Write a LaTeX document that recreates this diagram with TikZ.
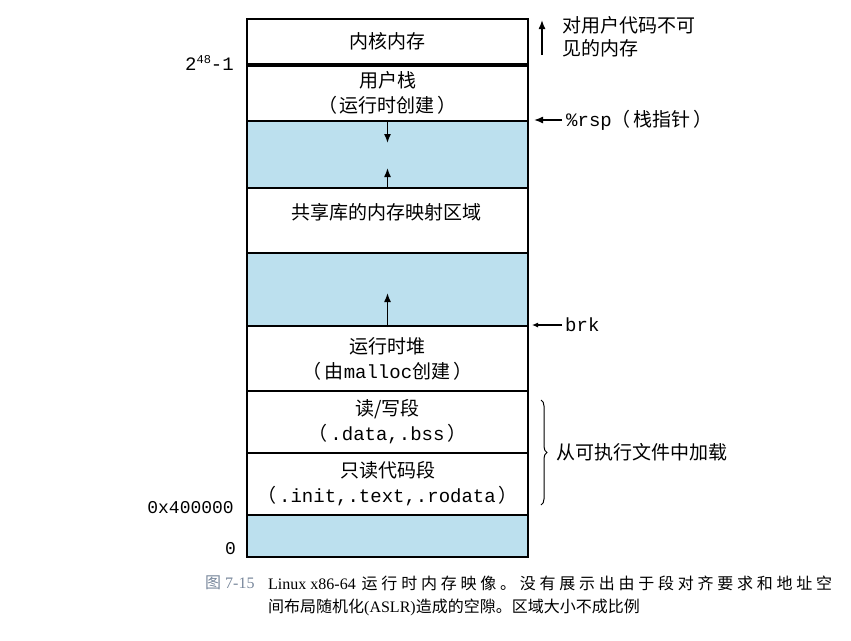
\documentclass[tikz,border=0pt]{standalone}
\usepackage{fontspec}
\setmainfont{Liberation Serif}
\newfontfamily\cjk{Noto Sans CJK SC}
\newfontfamily\mono{Liberation Mono}
\usetikzlibrary{arrows.meta,decorations.pathreplacing}
\definecolor{gapblue}{RGB}{188,224,238}
\definecolor{capgray}{RGB}{120,135,155}
\def\spr#1{#1\sprx}
\def\sprx#1{\ifx#1\relax\else\hfil#1\expandafter\sprx\fi}
\newcommand\lp{（\hspace{3pt}}
\newcommand\rp{\hspace{3pt}）}
\begin{document}
\begin{tikzpicture}[x=1pt,y=-1pt,
  region/.style={draw=black,line width=2pt,minimum width=281pt,anchor=north west,inner sep=0pt,
    font=\cjk\fontsize{19}{25}\selectfont,align=center,fill=white},
  gap/.style={region,fill=gapblue},
  ar/.style={-{Latex[length=9pt,width=7pt]},line width=1.4pt},
  sar/.style={-{Latex[length=6pt,width=5pt]},line width=1.1pt},
  lbl/.style={font=\cjk\fontsize{19}{23}\selectfont,inner sep=0pt},
  captext/.style={font=\cjk\fontsize{16}{20}\selectfont,inner sep=0pt,anchor=west}]
\useasboundingbox (0,0) rectangle (851,640);
% regions
\node[region,minimum height=45pt] (kern) at (246,18) {内核内存};
\node[region,minimum height=57pt] (ustack) at (246,63) {用户栈\\\lp 运行时创建\rp};
\node[gap,minimum height=67pt] (gap1) at (246,120) {};
\node[region,minimum height=65pt] (shlib) at (246,187) {};
\node[lbl,anchor=center] (shtext) at (386.5,212) {共享库的内存映射区域};
\node[gap,minimum height=73pt] (gap2) at (246,252) {};
\node[region,minimum height=65pt] (heap) at (246,325) {运行时堆\\\lp 由{\mono malloc}创建\rp};
\node[region,minimum height=62pt] (rw) at (246,390) {读/写段\\\lp{\mono .data,.bss}\rp};
\node[region,minimum height=62pt] (ro) at (246,452) {只读代码段\\\lp{\mono .init,.text,.rodata}\rp};
\node[gap,minimum height=42pt] (gap3) at (246,514) {};
\draw[line width=4.5pt] (kern.south west) -- (kern.south east);
% growth arrows
\draw[ar] (gap1.north) -- ++(0,23);
\draw[ar] (gap1.south) -- ++(0,-21);
\draw[ar] (gap2.south) -- ++(0,-34);
% left labels
\node[inner sep=0pt,anchor=east,font=\mono\fontsize{19}{19}\selectfont] (top) at (234,63)
  {2\raisebox{7pt}{\fontsize{12}{12}\selectfont 48}-1};
\node[inner sep=0pt,anchor=east,font=\mono\fontsize{18}{18}\selectfont] (a400) at (234,508) {0x400000};
\node[inner sep=0pt,anchor=east,font=\mono\fontsize{18}{18}\selectfont] (zero) at (236,549) {0};
% right labels
\coordinate (kupb) at (542,55);
\coordinate (kupt) at (542,20);
\draw[ar] (kupb) -- (kupt);
\node[lbl,anchor=west,align=left] (ktext) at (562,36.5) {对用户代码不可\\见的内存};
\node[lbl,anchor=west] (rsp) at (566,120) {{\mono\%rsp}\lp 栈指针\rp};
\draw[ar] ([xshift=-4pt]rsp.west) -- ([xshift=5pt]gap1.north east);
\node[lbl,anchor=west] (brk) at (565,325) {{\mono brk}};
\draw[sar] ([xshift=-3pt]brk.west) -- ([xshift=3pt]heap.north east);
\coordinate (bt) at (541,400);
\coordinate (bb) at (541,505);
\draw[decorate,decoration={brace,amplitude=6pt},line width=1pt] (bt) -- (bb);
\node[lbl,anchor=west] (load) at (556,452) {从可执行文件中加载};
% caption
\node[captext,text=capgray] (fig) at (205,583) {图\hspace{4pt}{\rmfamily 7-15}};
\node[captext] (cap1) at (268,583) {\makebox[564pt][s]{{\rmfamily Linux x86-64}\hspace{6pt}\spr 运行时内存映像。没有展示出由于段对齐要求和地址空\relax}};
\node[captext] (cap2) at (268,607) {间布局随机化{\rmfamily (ASLR)}造成的空隙。区域大小不成比例};
\end{tikzpicture}
\end{document}
